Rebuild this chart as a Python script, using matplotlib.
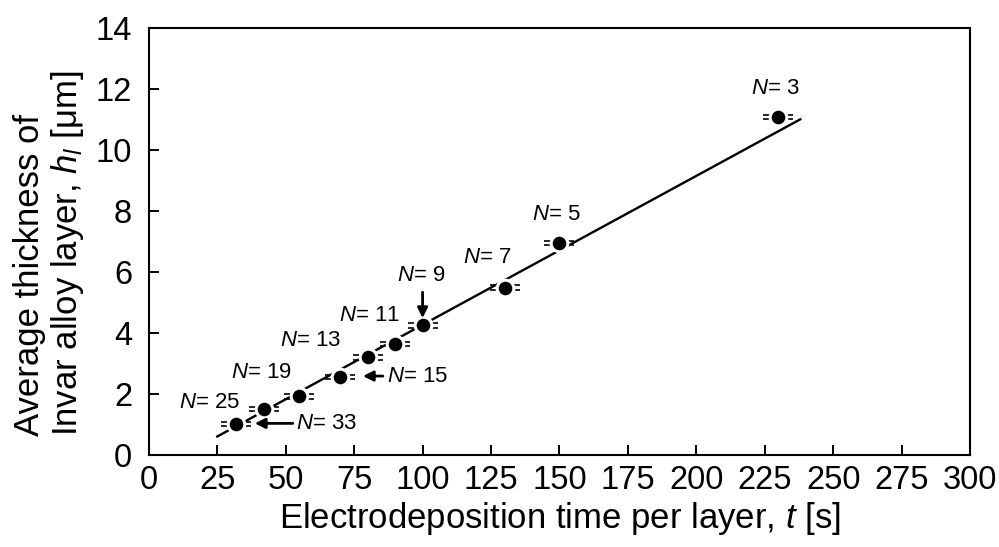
import matplotlib
matplotlib.use('Agg')
import matplotlib.pyplot as plt
import numpy as np

plt.rcParams['font.family'] = ['Liberation Sans', 'DejaVu Sans']
plt.rcParams['mathtext.fontset'] = 'custom'
plt.rcParams['mathtext.rm'] = 'Liberation Sans'
plt.rcParams['mathtext.it'] = 'Liberation Sans:italic'

# data
layers = [3, 5, 7, 9, 11, 13, 15, 19, 25, 33]
time_s = [230, 150, 130, 100, 90, 80, 70, 55, 42, 32]
thickness = [11.08, 6.95, 5.48, 4.26, 3.64, 3.21, 2.56, 1.93, 1.51, 1.02]
thick_err = [0.08] * 10

# linear fit drawn in the figure
fit_x = [25, 238]
fit_slope = 0.0488
fit_icpt = -0.61

# label placement: text x, text y, horizontal alignment
label_pos = {
    3: (228.7, 12.0, 'center'),
    5: (149, 7.87, 'center'),
    7: (123.5, 6.46, 'center'),
    9: (99.4, 5.9, 'center'),
    11: (80.7, 4.59, 'center'),
    13: (59.2, 3.77, 'center'),
    15: (87.0, 2.59, 'left'),
    19: (41.3, 2.72, 'center'),
    25: (22.3, 1.74, 'center'),
    33: (53.7, 1.04, 'left'),
}
# arrows: (tail, head)
arrows = {
    9: ((100, 5.34), (100, 4.49)),
    15: ((85.5, 2.59), (78.2, 2.59)),
    33: ((52.6, 1.04), (38.7, 1.04)),
}

fig = plt.figure(figsize=(9.99, 5.47), dpi=100)
ax = fig.add_axes([0.149, 0.168, 0.822, 0.781])

fx = np.array(fit_x, dtype=float)
ax.plot(fx, fit_slope * fx + fit_icpt, color='black', lw=1.7, zorder=1)

ax.errorbar(time_s, thickness, yerr=thick_err, fmt='none', ecolor='black',
            elinewidth=1.0, capsize=10.5, capthick=1.2, zorder=2)
ax.plot(time_s, thickness, 'o', color='black', ms=12,
        markeredgecolor='white', markeredgewidth=2.2, zorder=3)

for n in layers:
    tx, ty, ha = label_pos[n]
    ax.text(tx, ty, '$N$= %d' % n, fontsize=16, ha=ha, va='center')
    if n in arrows:
        tail, head = arrows[n]
        ax.annotate('', xy=head, xytext=tail,
                    arrowprops=dict(arrowstyle='-|>', color='black', lw=2.0,
                                    mutation_scale=15, shrinkA=0, shrinkB=0))

ax.set_xlim(0, 300)
ax.set_ylim(0, 14)
ax.set_xticks(np.arange(0, 301, 25))
ax.set_yticks(np.arange(0, 15, 2))
ax.tick_params(direction='in', length=7, width=1.4, labelsize=23.5,
               top=False, right=False)
ax.tick_params(axis='x', pad=7)
ax.tick_params(axis='y', pad=12)
for sp in ax.spines.values():
    sp.set_linewidth(1.5)

ax.set_xlabel('Electrodeposition time per layer, $t$ [s]', fontsize=25, labelpad=3)
ax.set_ylabel('Average thickness of\nInvar alloy layer, $h_l$ [\u03bcm]',
              fontsize=25, linespacing=1.1, multialignment='left')
ax.yaxis.set_label_coords(-0.077, 0.473)

fig.savefig('out.png', dpi=100)
